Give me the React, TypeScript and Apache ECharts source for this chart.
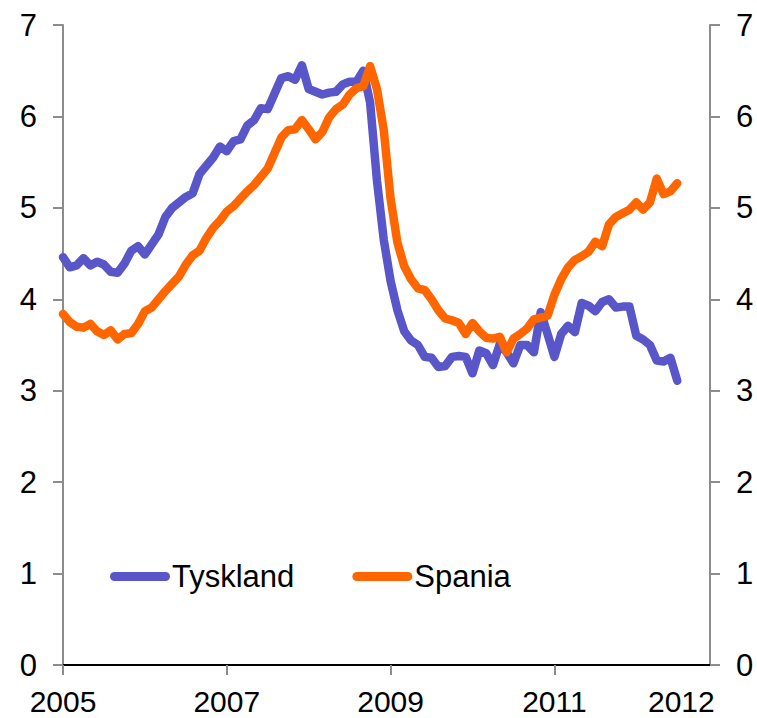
import React, { useEffect, useRef } from "react";
import * as echarts from "echarts";

const startYear = 2005;
const xTickYears = [2005, 2007, 2009, 2011];
const xLabelYears = [2005, 2007, 2009, 2011, 2012.55];
const yTicks = [0, 1, 2, 3, 4, 5, 6, 7];

const tyskland = [
  4.46, 4.35, 4.37, 4.45, 4.37, 4.41, 4.38, 4.30, 4.29, 4.39, 4.53, 4.58,
  4.49, 4.60, 4.71, 4.90, 5.00, 5.06, 5.12, 5.16, 5.37, 5.46, 5.55, 5.67,
  5.62, 5.73, 5.75, 5.90, 5.96, 6.09, 6.08, 6.25, 6.42, 6.44, 6.40, 6.56,
  6.30, 6.27, 6.24, 6.26, 6.27, 6.35, 6.38, 6.38, 6.50, 6.15, 5.30, 4.65,
  4.20, 3.88, 3.65, 3.55, 3.50, 3.37, 3.36, 3.26, 3.27, 3.37, 3.38, 3.37,
  3.19, 3.44, 3.41, 3.28, 3.51, 3.42, 3.30, 3.50, 3.50, 3.42, 3.86, 3.62,
  3.37, 3.62, 3.71, 3.64, 3.96, 3.93, 3.87, 3.97, 4.00, 3.91, 3.92, 3.92,
  3.60, 3.56, 3.50, 3.33, 3.32, 3.36, 3.11,
];

const spania = [
  3.84, 3.75, 3.70, 3.69, 3.73, 3.65, 3.61, 3.66, 3.56, 3.62, 3.63, 3.73,
  3.87, 3.91, 4.00, 4.09, 4.17, 4.25, 4.38, 4.48, 4.53, 4.67, 4.78, 4.86,
  4.96, 5.02, 5.10, 5.18, 5.25, 5.34, 5.43, 5.60, 5.77, 5.85, 5.86, 5.96,
  5.86, 5.75, 5.83, 5.99, 6.08, 6.13, 6.24, 6.31, 6.33, 6.55, 6.30, 5.85,
  5.10, 4.62, 4.36, 4.22, 4.12, 4.10, 4.00, 3.88, 3.79, 3.77, 3.74, 3.62,
  3.74, 3.65, 3.58, 3.57, 3.59, 3.42, 3.57, 3.62, 3.68, 3.78, 3.80, 3.82,
  4.05, 4.22, 4.35, 4.43, 4.47, 4.52, 4.63, 4.58, 4.82, 4.90, 4.94, 4.98,
  5.06, 4.98, 5.06, 5.32, 5.15, 5.18, 5.27,
];

const toPairs = (vals: number[]) =>
  vals.map((v, i) => [startYear + i / 12, v]);

const FONT = "'Liberation Sans', Arial, sans-serif";
const AXIS_GRAY = "#8c8c8c";

export default function App() {
  const ref = useRef<HTMLDivElement>(null);
  useEffect(() => {
    if (!ref.current) return;
    const chart = echarts.init(ref.current, undefined, { renderer: "svg" });
    const yAxisBase = {
      type: "value",
      min: 0,
      max: 7,
      interval: 1,
      splitLine: { show: false },
      axisLine: { show: true, lineStyle: { color: AXIS_GRAY, width: 2 } },
      axisTick: {
        show: true,
        inside: false,
        length: 10,
        lineStyle: { color: AXIS_GRAY, width: 2 },
      },
      axisLabel: {
        color: "#000",
        fontSize: 31,
        fontFamily: FONT,
        margin: 26,
        formatter: (v: number) => (yTicks.includes(v) ? String(v) : ""),
      },
    };
    chart.setOption({
      animation: false,
      backgroundColor: "#fff",
      grid: { left: 63, right: 47, top: 25, bottom: 53, containLabel: false },
      legend: {
        left: 105,
        top: 556,
        itemWidth: 60,
        itemHeight: 9,
        itemGap: 58,
        icon: "path://M4.5,0 H55.5 A4.5,4.5 0 0 1 55.5,9 H4.5 A4.5,4.5 0 0 1 4.5,0 Z",
        textStyle: {
          color: "#000",
          fontSize: 31,
          fontFamily: FONT,
          padding: [0, 0, 0, -3],
        },
        data: ["Tyskland", "Spania"],
      },
      xAxis: [
        {
          type: "value",
          min: 2005,
          max: 2012.9,
          interval: 2,
          splitLine: { show: false },
          axisLine: { show: true, lineStyle: { color: AXIS_GRAY, width: 2 } },
          axisTick: {
            show: true,
            length: 10,
            customValues: xTickYears,
            lineStyle: { color: AXIS_GRAY, width: 2 },
          },
          axisLabel: {
            color: "#000",
            fontSize: 30,
            lineHeight: 25,
            fontFamily: FONT,
            margin: 24,
            customValues: xLabelYears,
            formatter: (v: number) => String(Math.floor(v)),
          },
        },
        {
          type: "value",
          position: "top",
          min: 2005,
          max: 2012.9,
          splitLine: { show: false },
          axisLine: { show: true, lineStyle: { color: "#000", width: 2 } },
          axisTick: { show: false },
          axisLabel: { show: false },
        },
      ],
      yAxis: [
        { ...yAxisBase, position: "left" },
        { ...yAxisBase, position: "right" },
      ],
      series: [
        {
          name: "Tyskland",
          type: "line",
          data: toPairs(tyskland),
          showSymbol: false,
          symbol: "none",
          lineStyle: { color: "#5856C8", width: 8.5, cap: "round", join: "round" },
          itemStyle: { color: "#5856C8" },
        },
        {
          name: "Spania",
          type: "line",
          data: toPairs(spania),
          showSymbol: false,
          symbol: "none",
          lineStyle: { color: "#FF6600", width: 8.5, cap: "round", join: "round" },
          itemStyle: { color: "#FF6600" },
        },
      ],
    });
    return () => chart.dispose();
  }, []);
  return (
    <div
      ref={ref}
      style={{ position: "fixed", left: 0, top: 0, width: 757, height: 718 }}
    />
  );
}
